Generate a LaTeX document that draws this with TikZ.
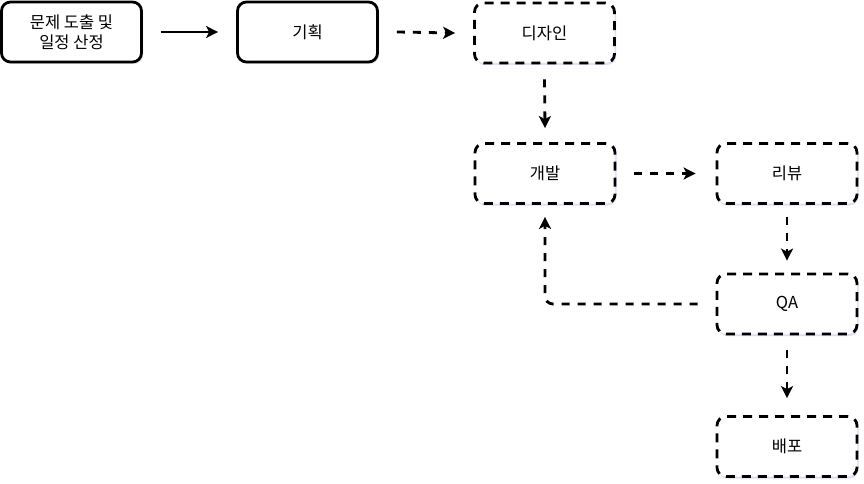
\documentclass[tikz,border=0pt]{standalone}
\usepackage{fontspec}
\setmainfont{Noto Sans CJK KR}
\usetikzlibrary{arrows.meta,shadows}
\begin{document}
\begin{tikzpicture}[x=1pt,y=-1pt,
  box/.style={draw=black,line width=2.8pt,rounded corners=9pt,fill=white,
    minimum width=140pt,minimum height=60pt,inner sep=0pt,align=center,
    font=\fontsize{16.5}{20}\selectfont,
    drop shadow={opacity=0.18,shadow xshift=1.5pt,shadow yshift=-2pt,fill=blue!40!gray}},
  dbox/.style={box,dash pattern=on 9pt off 7pt},
  conn/.style={line width=2.8pt,-{Stealth[length=12pt,width=12pt,inset=3pt]}},
  dconn/.style={conn,dash pattern=on 8pt off 8pt}]
\useasboundingbox (0,0) rectangle (864,484);
\node[box]  (a) at (71.5,32)  {문제 도출 및\\일정 산정};
\node[box]  (b) at (307.5,32) {기획};
\node[dbox] (c) at (544.5,33) {디자인};
\node[dbox] (d) at (545,173.5) {개발};
\node[dbox] (e) at (787,173.5) {리뷰};
\node[dbox] (f) at (787,304) {QA};
\node[dbox] (g) at (787,446.5) {배포};
\draw[conn]  ([xshift=18pt]a.east) -- ([xshift=-18pt]b.west);
\draw[dconn] ([xshift=18pt]b.east) -- ([xshift=-18pt]c.west);
\draw[dconn] ([yshift=-15pt]c.south) -- ([yshift=14pt]d.north);
\draw[dconn] ([xshift=18pt]d.east) -- ([xshift=-20pt]e.west);
\draw[dconn] ([yshift=-12pt]e.south) -- ([yshift=12pt]f.north);
\draw[dconn] ([yshift=-15pt]f.south) -- ([yshift=17pt]g.north);
\draw[dconn,rounded corners=8pt] ([xshift=-18pt]f.west) -| ([yshift=-12pt]d.south);
\end{tikzpicture}
\end{document}
